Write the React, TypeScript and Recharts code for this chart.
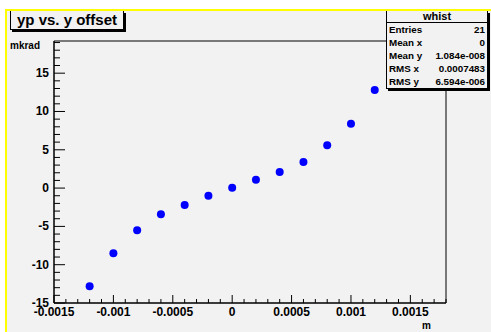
import { ScatterChart, Scatter, XAxis, YAxis, ReferenceArea } from 'recharts';

// y offset [m] and yp [mkrad]
const yOffset = [-0.0012, -0.001, -0.0008, -0.0006, -0.0004, -0.0002, 0, 0.0002, 0.0004, 0.0006, 0.0008, 0.001, 0.0012];
const ypValues = [-12.8, -8.5, -5.5, -3.4, -2.2, -1.0, 0.05, 1.1, 2.1, 3.4, 5.6, 8.4, 12.8];

const xMajorTicks = [-0.0015, -0.001, -0.0005, 0, 0.0005, 0.001, 0.0015];
const xMajorLabels = ['-0.0015', '-0.001', '-0.0005', '0', '0.0005', '0.001', '0.0015'];
const yMajorTicks = [-15, -10, -5, 0, 5, 10, 15];
const yMajorLabels = ['-15', '-10', '-5', '0', '5', '10', '15'];

const statNames = ['Entries', 'Mean x', 'Mean y', 'RMS x', 'RMS y'];
const statValues = ['21', '0', '1.084e-008', '0.0007483', '6.594e-006'];

const X_DOMAIN: [number, number] = [-0.0015, 0.0018];
const Y_DOMAIN: [number, number] = [-15, 19.2];

// minor ticks: x every 0.0001, y every 1
const xTicks: number[] = [];
for (let i = -15; i <= 18; i++) xTicks.push(Number((i / 10000).toFixed(4)));
const yTicks: number[] = [];
for (let i = -15; i <= 19; i++) yTicks.push(i);

const data = yOffset.map((x, i) => ({ x, y: ypValues[i] }));

const FONT = '"Liberation Sans", Arial, Helvetica, sans-serif';

const XTick = (props: any) => {
  const { x, y, payload } = props;
  const idx = xMajorTicks.findIndex((t) => Math.abs(t - payload.value) < 1e-9);
  const major = idx >= 0;
  return (
    <g>
      <line x1={x} y1={y} x2={x} y2={y - (major ? 8 : 4)} stroke="#000" />
      {major && (
        <text x={x} y={y + 13} textAnchor="middle" fontSize={12} fontWeight="bold" fontFamily={FONT} fill="#000">
          {xMajorLabels[idx]}
        </text>
      )}
    </g>
  );
};

const YTick = (props: any) => {
  const { x, y, payload } = props;
  const idx = yMajorTicks.indexOf(payload.value);
  const major = idx >= 0;
  return (
    <g>
      <line x1={x} y1={y} x2={x + (major ? 11 : 6)} y2={y} stroke="#000" />
      {major && (
        <text x={x - 5} y={y} textAnchor="end" dominantBaseline="central" fontSize={12} fontWeight="bold" fontFamily={FONT} fill="#000">
          {yMajorLabels[idx]}
        </text>
      )}
    </g>
  );
};

const Dot = (props: any) => <circle cx={props.cx} cy={props.cy} r={4} fill="#0000ff" />;

export default function App() {
  return (
    <div style={{ position: 'absolute', left: 0, top: 0, width: 491, height: 332, background: '#fff', overflow: 'hidden', fontFamily: FONT }}>
      <div
        style={{
          position: 'absolute',
          left: 5,
          top: 9,
          width: 486,
          height: 323,
          background: '#f2f2f2',
          borderTop: '2px solid #ffff00',
          borderLeft: '2px solid #ffff00',
        }}
      />
      <div style={{ position: 'absolute', left: 0, top: 0 }}>
        <ScatterChart width={491} height={332} margin={{ top: 41, right: 45, bottom: 0, left: 0 }}>
          <ReferenceArea
            x1={X_DOMAIN[0]}
            x2={X_DOMAIN[1]}
            y1={Y_DOMAIN[0]}
            y2={Y_DOMAIN[1]}
            fill="none"
            fillOpacity={0}
            stroke="#000"
            strokeWidth={1}
          />
          <XAxis
            type="number"
            dataKey="x"
            domain={X_DOMAIN}
            allowDataOverflow
            ticks={xTicks}
            interval={0}
            height={29}
            tickSize={0}
            tickMargin={0}
            tickLine={false}
            axisLine={{ stroke: '#000' }}
            tick={<XTick />}
          />
          <YAxis
            type="number"
            dataKey="y"
            domain={Y_DOMAIN}
            allowDataOverflow
            ticks={yTicks}
            interval={0}
            width={54}
            tickSize={0}
            tickMargin={0}
            tickLine={false}
            axisLine={{ stroke: '#000' }}
            tick={<YTick />}
          />
          <Scatter data={data} shape={<Dot />} isAnimationActive={false} />
        </ScatterChart>
      </div>

      <div style={{ position: 'absolute', left: 10, top: 41, fontSize: 10, fontWeight: 'bold', lineHeight: '10px' }}>mkrad</div>
      <div style={{ position: 'absolute', left: 422, top: 321, fontSize: 10, fontWeight: 'bold', lineHeight: '10px' }}>m</div>

      {/* title pad */}
      <div
        style={{
          position: 'absolute',
          left: 10,
          top: 11,
          width: 112,
          height: 18,
          background: '#f2f2f2',
          borderLeft: '1px solid #000',
          borderRight: '1px solid #000',
          borderBottom: '1px solid #000',
          boxShadow: '2px 2px 0 #000',
          fontSize: 15,
          fontWeight: 'bold',
          lineHeight: '18px',
          textAlign: 'center',
        }}
      >
        yp vs. y offset
      </div>

      {/* stats box */}
      <div
        style={{
          position: 'absolute',
          left: 386,
          top: 11,
          width: 100,
          height: 77,
          background: '#f2f2f2',
          borderLeft: '1px solid #000',
          borderRight: '1px solid #000',
          borderBottom: '1px solid #000',
          boxShadow: '2px 2px 0 #000',
        }}
      >
        <div style={{ height: 11, lineHeight: '11px', fontSize: 11, fontWeight: 'bold', textAlign: 'center', borderBottom: '1px solid #000' }}>
          whist
        </div>
        {statNames.map((name, i) => (
          <div
            key={name}
            style={{
              display: 'flex',
              justifyContent: 'space-between',
              height: 13,
              lineHeight: '13px',
              fontSize: 9.8,
              fontWeight: 'bold',
              padding: '0 2px 0 2px',
              whiteSpace: 'nowrap',
            }}
          >
            <span>{name}</span>
            <span>{statValues[i]}</span>
          </div>
        ))}
      </div>
    </div>
  );
}
